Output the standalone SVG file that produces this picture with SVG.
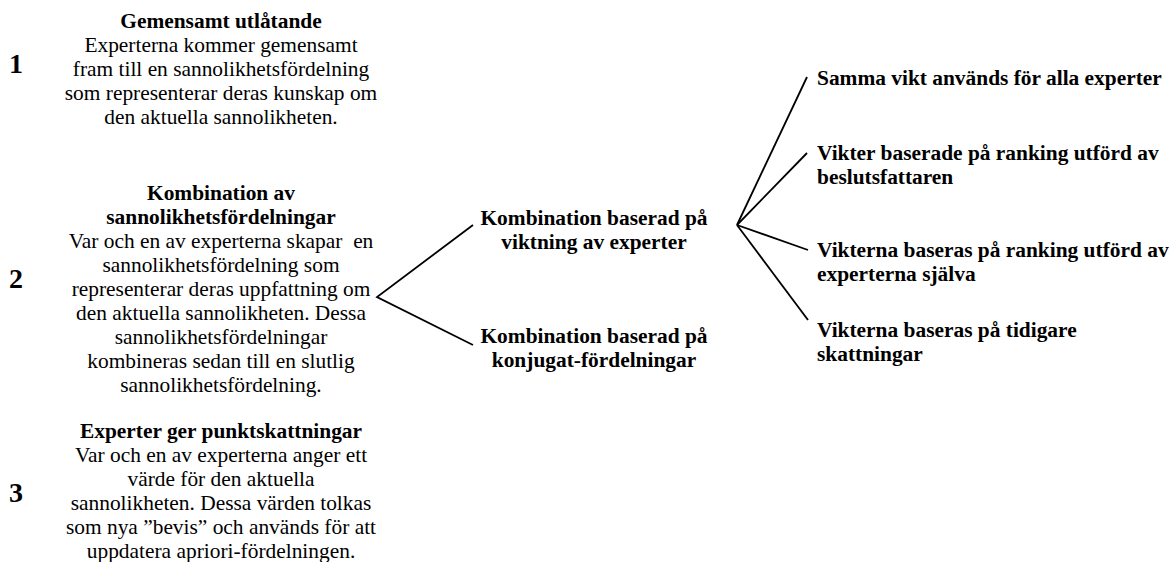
<svg xmlns="http://www.w3.org/2000/svg" width="1171" height="562" viewBox="0 0 1171 562">
<style>
text{font-family:"Liberation Serif","Times New Roman",serif;fill:#000}
.b{font-weight:bold}
.t{font-size:21.4px}
.num{font-size:28px;font-weight:bold}
.c{text-anchor:middle}
.ln{stroke:#000;stroke-width:1.8;fill:none}
</style>
<rect width="1171" height="562" fill="#fff"/>
<g id="num1"><text class="num" x="9" y="73">1</text></g>
<g id="num2"><text class="num" x="9" y="288">2</text></g>
<g id="num3"><text class="num" x="9" y="502">3</text></g>
<g id="n1" class="c">
<text class="t b c" x="221" y="28">Gemensamt utlåtande</text>
<text class="t c" x="221" y="52">Experterna kommer gemensamt</text>
<text class="t c" x="221" y="76">fram till en sannolikhetsfördelning</text>
<text class="t c" x="221" y="100">som representerar deras kunskap om</text>
<text class="t c" x="221" y="124">den aktuella sannolikheten.</text>
</g>
<g id="n2">
<text class="t b c" x="221" y="200">Kombination av</text>
<text class="t b c" x="221" y="224">sannolikhetsfördelningar</text>
<text class="t c" x="221" y="248" xml:space="preserve">Var och en av experterna skapar  en</text>
<text class="t c" x="221" y="272">sannolikhetsfördelning som</text>
<text class="t c" x="221" y="296">representerar deras uppfattning om</text>
<text class="t c" x="221" y="320">den aktuella sannolikheten. Dessa</text>
<text class="t c" x="221" y="344">sannolikhetsfördelningar</text>
<text class="t c" x="221" y="368">kombineras sedan till en slutlig</text>
<text class="t c" x="221" y="392">sannolikhetsfördelning.</text>
</g>
<g id="n3">
<text class="t b c" x="221" y="438">Experter ger punktskattningar</text>
<text class="t c" x="221" y="462">Var och en av experterna anger ett</text>
<text class="t c" x="221" y="486">värde för den aktuella</text>
<text class="t c" x="221" y="510">sannolikheten. Dessa värden tolkas</text>
<text class="t c" x="221" y="534">som nya ”bevis” och används för att</text>
<text class="t c" x="221" y="558">uppdatera apriori-fördelningen.</text>
</g>
<g id="m1">
<text class="t b c" x="594" y="225">Kombination baserad på</text>
<text class="t b c" x="594" y="249">viktning av experter</text>
</g>
<g id="m2">
<text class="t b c" x="594" y="343">Kombination baserad på</text>
<text class="t b c" x="594" y="367">konjugat-fördelningar</text>
</g>
<g id="r1"><text class="t b" x="817" y="85">Samma vikt används för alla experter</text></g>
<g id="r2">
<text class="t b" x="817" y="160">Vikter baserade på ranking utförd av</text>
<text class="t b" x="817" y="184">beslutsfattaren</text>
</g>
<g id="r3">
<text class="t b" x="817" y="257">Vikterna baseras på ranking utförd av</text>
<text class="t b" x="817" y="281">experterna själva</text>
</g>
<g id="r4">
<text class="t b" x="817" y="337">Vikterna baseras på tidigare</text>
<text class="t b" x="817" y="361">skattningar</text>
</g>
<g id="connectors" class="ln">
<polyline points="473,225 377,297 473,345"/>
<line x1="737" y1="225" x2="807" y2="77"/>
<line x1="737" y1="225" x2="807" y2="153"/>
<line x1="737" y1="225" x2="808" y2="250"/>
<line x1="737" y1="225" x2="808" y2="320"/>
</g>
</svg>
